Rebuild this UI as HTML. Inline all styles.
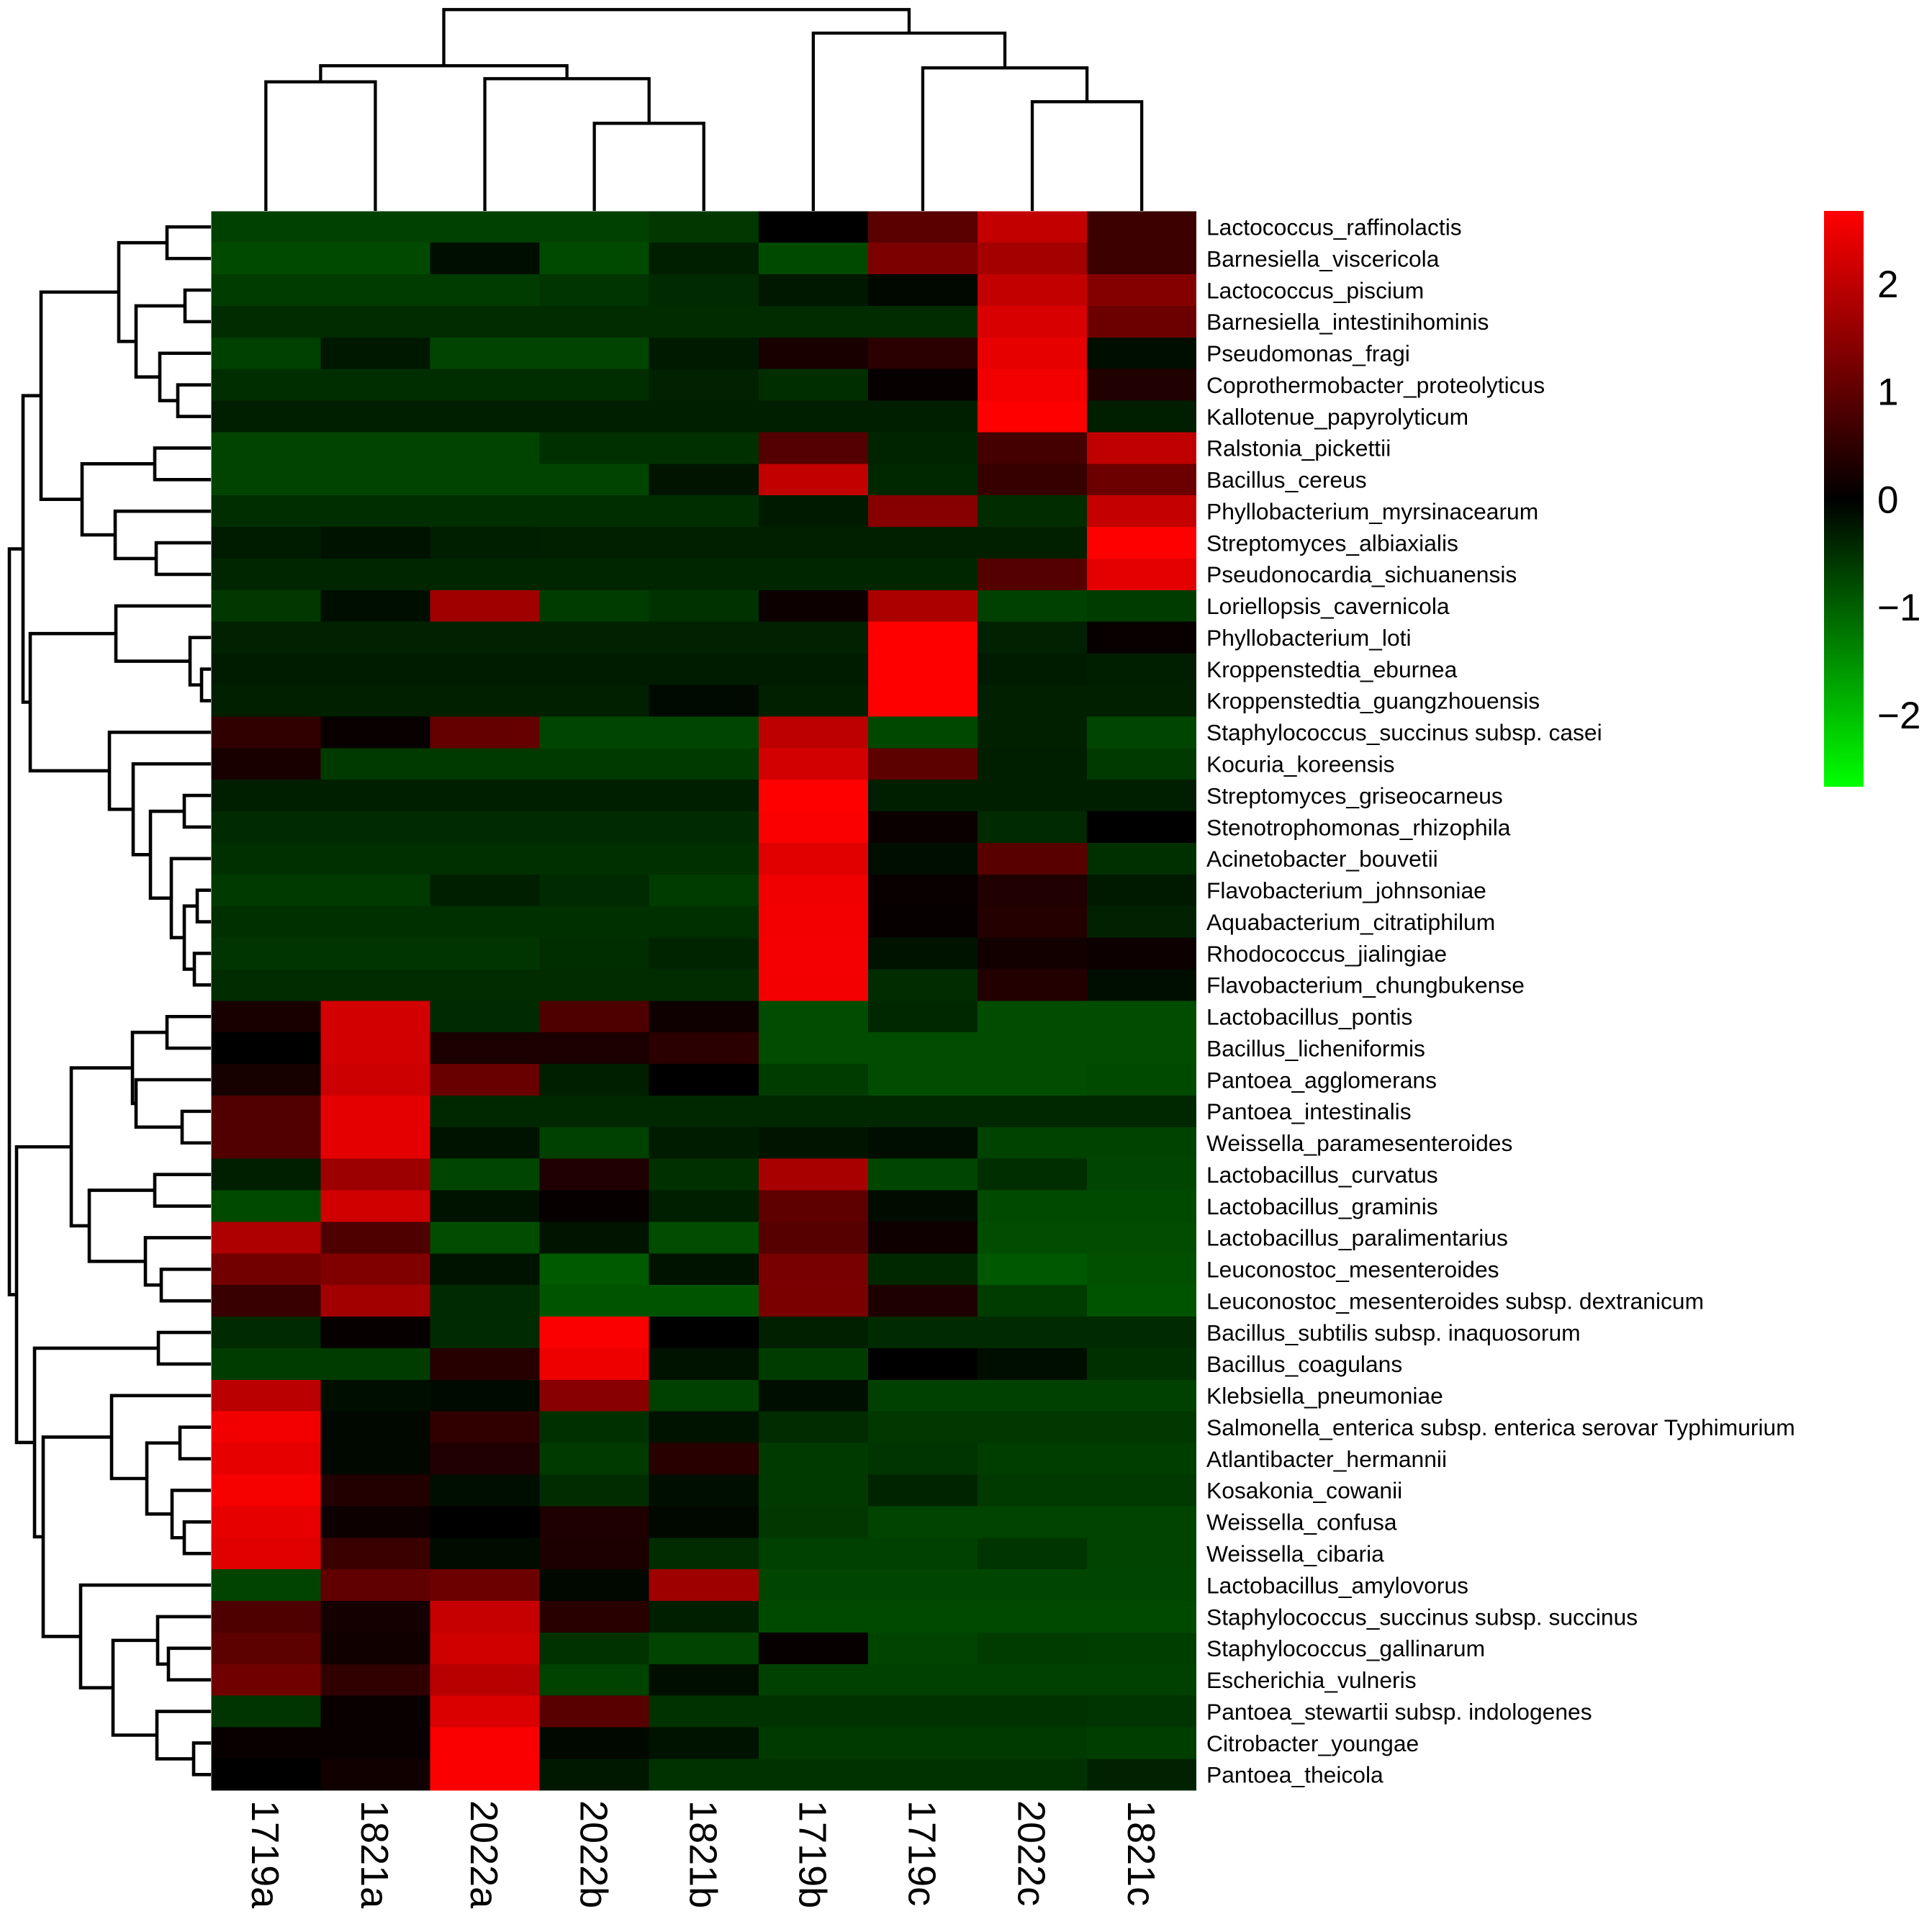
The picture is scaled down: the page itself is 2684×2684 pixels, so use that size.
<!DOCTYPE html>
<html><head><meta charset="utf-8"><style>
html,body{margin:0;padding:0;background:#fff;}
svg{display:block;}
text{font-family:"Liberation Sans",Arial,sans-serif;fill:#000;}
.rl{font-size:31.8px;}
.cl{font-size:54px;}
.lg{font-size:53px;}
</style></head><body>
<svg width="2684" height="2684" viewBox="0 0 2684 2684" xmlns="http://www.w3.org/2000/svg">
<defs><linearGradient id="cb" x1="0" y1="0" x2="0" y2="1"><stop offset="0" stop-color="#ff0000"/><stop offset="0.5006" stop-color="#000000"/><stop offset="1" stop-color="#00ff00"/></linearGradient></defs>
<rect width="2684" height="2684" fill="#fff"/>
<g shape-rendering="crispEdges">
<g transform="translate(0,293.3)"><rect x="293.3" width="152.6" height="44.4" fill="#004000"/><rect x="445.4" width="152.6" height="44.4" fill="#004000"/><rect x="597.5" width="152.6" height="44.4" fill="#004000"/><rect x="749.6" width="152.6" height="44.4" fill="#004000"/><rect x="901.7" width="152.6" height="44.4" fill="#003800"/><rect x="1053.8" width="152.6" height="44.4" fill="#000000"/><rect x="1205.9" width="152.6" height="44.4" fill="#5a0000"/><rect x="1358" width="152.6" height="44.4" fill="#c20000"/><rect x="1510.1" width="152.1" height="44.4" fill="#3c0000"/></g>
<g transform="translate(0,337.18)"><rect x="293.3" width="152.6" height="44.4" fill="#004a00"/><rect x="445.4" width="152.6" height="44.4" fill="#004a00"/><rect x="597.5" width="152.6" height="44.4" fill="#000e00"/><rect x="749.6" width="152.6" height="44.4" fill="#004a00"/><rect x="901.7" width="152.6" height="44.4" fill="#001e00"/><rect x="1053.8" width="152.6" height="44.4" fill="#004a00"/><rect x="1205.9" width="152.6" height="44.4" fill="#7c0000"/><rect x="1358" width="152.6" height="44.4" fill="#a40000"/><rect x="1510.1" width="152.1" height="44.4" fill="#3c0000"/></g>
<g transform="translate(0,381.06)"><rect x="293.3" width="152.6" height="44.4" fill="#003c00"/><rect x="445.4" width="152.6" height="44.4" fill="#003c00"/><rect x="597.5" width="152.6" height="44.4" fill="#003c00"/><rect x="749.6" width="152.6" height="44.4" fill="#003400"/><rect x="901.7" width="152.6" height="44.4" fill="#002a00"/><rect x="1053.8" width="152.6" height="44.4" fill="#001800"/><rect x="1205.9" width="152.6" height="44.4" fill="#000800"/><rect x="1358" width="152.6" height="44.4" fill="#c20000"/><rect x="1510.1" width="152.1" height="44.4" fill="#840000"/></g>
<g transform="translate(0,424.94)"><rect x="293.3" width="152.6" height="44.4" fill="#002c00"/><rect x="445.4" width="152.6" height="44.4" fill="#002c00"/><rect x="597.5" width="152.6" height="44.4" fill="#002c00"/><rect x="749.6" width="152.6" height="44.4" fill="#002c00"/><rect x="901.7" width="152.6" height="44.4" fill="#002c00"/><rect x="1053.8" width="152.6" height="44.4" fill="#002c00"/><rect x="1205.9" width="152.6" height="44.4" fill="#002c00"/><rect x="1358" width="152.6" height="44.4" fill="#d80000"/><rect x="1510.1" width="152.1" height="44.4" fill="#6c0000"/></g>
<g transform="translate(0,468.82)"><rect x="293.3" width="152.6" height="44.4" fill="#004000"/><rect x="445.4" width="152.6" height="44.4" fill="#001800"/><rect x="597.5" width="152.6" height="44.4" fill="#004400"/><rect x="749.6" width="152.6" height="44.4" fill="#004400"/><rect x="901.7" width="152.6" height="44.4" fill="#001a00"/><rect x="1053.8" width="152.6" height="44.4" fill="#180000"/><rect x="1205.9" width="152.6" height="44.4" fill="#2a0000"/><rect x="1358" width="152.6" height="44.4" fill="#e60000"/><rect x="1510.1" width="152.1" height="44.4" fill="#000e00"/></g>
<g transform="translate(0,512.7)"><rect x="293.3" width="152.6" height="44.4" fill="#002e00"/><rect x="445.4" width="152.6" height="44.4" fill="#002e00"/><rect x="597.5" width="152.6" height="44.4" fill="#002e00"/><rect x="749.6" width="152.6" height="44.4" fill="#002e00"/><rect x="901.7" width="152.6" height="44.4" fill="#002200"/><rect x="1053.8" width="152.6" height="44.4" fill="#002e00"/><rect x="1205.9" width="152.6" height="44.4" fill="#060000"/><rect x="1358" width="152.6" height="44.4" fill="#f20000"/><rect x="1510.1" width="152.1" height="44.4" fill="#200000"/></g>
<g transform="translate(0,556.58)"><rect x="293.3" width="152.6" height="44.4" fill="#001e00"/><rect x="445.4" width="152.6" height="44.4" fill="#001e00"/><rect x="597.5" width="152.6" height="44.4" fill="#001e00"/><rect x="749.6" width="152.6" height="44.4" fill="#001e00"/><rect x="901.7" width="152.6" height="44.4" fill="#001e00"/><rect x="1053.8" width="152.6" height="44.4" fill="#001e00"/><rect x="1205.9" width="152.6" height="44.4" fill="#001e00"/><rect x="1358" width="152.6" height="44.4" fill="#ff0000"/><rect x="1510.1" width="152.1" height="44.4" fill="#001e00"/></g>
<g transform="translate(0,600.46)"><rect x="293.3" width="152.6" height="44.4" fill="#004400"/><rect x="445.4" width="152.6" height="44.4" fill="#004400"/><rect x="597.5" width="152.6" height="44.4" fill="#004400"/><rect x="749.6" width="152.6" height="44.4" fill="#003000"/><rect x="901.7" width="152.6" height="44.4" fill="#003000"/><rect x="1053.8" width="152.6" height="44.4" fill="#540000"/><rect x="1205.9" width="152.6" height="44.4" fill="#002400"/><rect x="1358" width="152.6" height="44.4" fill="#440000"/><rect x="1510.1" width="152.1" height="44.4" fill="#c00000"/></g>
<g transform="translate(0,644.34)"><rect x="293.3" width="152.6" height="44.4" fill="#004400"/><rect x="445.4" width="152.6" height="44.4" fill="#004400"/><rect x="597.5" width="152.6" height="44.4" fill="#004400"/><rect x="749.6" width="152.6" height="44.4" fill="#004400"/><rect x="901.7" width="152.6" height="44.4" fill="#001400"/><rect x="1053.8" width="152.6" height="44.4" fill="#c20000"/><rect x="1205.9" width="152.6" height="44.4" fill="#002800"/><rect x="1358" width="152.6" height="44.4" fill="#360000"/><rect x="1510.1" width="152.1" height="44.4" fill="#6c0000"/></g>
<g transform="translate(0,688.22)"><rect x="293.3" width="152.6" height="44.4" fill="#002e00"/><rect x="445.4" width="152.6" height="44.4" fill="#002e00"/><rect x="597.5" width="152.6" height="44.4" fill="#002e00"/><rect x="749.6" width="152.6" height="44.4" fill="#002e00"/><rect x="901.7" width="152.6" height="44.4" fill="#002e00"/><rect x="1053.8" width="152.6" height="44.4" fill="#001a00"/><rect x="1205.9" width="152.6" height="44.4" fill="#860000"/><rect x="1358" width="152.6" height="44.4" fill="#002c00"/><rect x="1510.1" width="152.1" height="44.4" fill="#c40000"/></g>
<g transform="translate(0,732.1)"><rect x="293.3" width="152.6" height="44.4" fill="#001c00"/><rect x="445.4" width="152.6" height="44.4" fill="#001200"/><rect x="597.5" width="152.6" height="44.4" fill="#001e00"/><rect x="749.6" width="152.6" height="44.4" fill="#002000"/><rect x="901.7" width="152.6" height="44.4" fill="#002000"/><rect x="1053.8" width="152.6" height="44.4" fill="#002000"/><rect x="1205.9" width="152.6" height="44.4" fill="#002000"/><rect x="1358" width="152.6" height="44.4" fill="#002000"/><rect x="1510.1" width="152.1" height="44.4" fill="#ff0000"/></g>
<g transform="translate(0,775.98)"><rect x="293.3" width="152.6" height="44.4" fill="#002600"/><rect x="445.4" width="152.6" height="44.4" fill="#002600"/><rect x="597.5" width="152.6" height="44.4" fill="#002600"/><rect x="749.6" width="152.6" height="44.4" fill="#002600"/><rect x="901.7" width="152.6" height="44.4" fill="#002600"/><rect x="1053.8" width="152.6" height="44.4" fill="#002600"/><rect x="1205.9" width="152.6" height="44.4" fill="#002600"/><rect x="1358" width="152.6" height="44.4" fill="#540000"/><rect x="1510.1" width="152.1" height="44.4" fill="#e40000"/></g>
<g transform="translate(0,819.86)"><rect x="293.3" width="152.6" height="44.4" fill="#003800"/><rect x="445.4" width="152.6" height="44.4" fill="#000e00"/><rect x="597.5" width="152.6" height="44.4" fill="#a00000"/><rect x="749.6" width="152.6" height="44.4" fill="#003c00"/><rect x="901.7" width="152.6" height="44.4" fill="#003200"/><rect x="1053.8" width="152.6" height="44.4" fill="#0c0000"/><rect x="1205.9" width="152.6" height="44.4" fill="#aa0000"/><rect x="1358" width="152.6" height="44.4" fill="#004000"/><rect x="1510.1" width="152.1" height="44.4" fill="#003c00"/></g>
<g transform="translate(0,863.74)"><rect x="293.3" width="152.6" height="44.4" fill="#002200"/><rect x="445.4" width="152.6" height="44.4" fill="#002200"/><rect x="597.5" width="152.6" height="44.4" fill="#002200"/><rect x="749.6" width="152.6" height="44.4" fill="#002200"/><rect x="901.7" width="152.6" height="44.4" fill="#002200"/><rect x="1053.8" width="152.6" height="44.4" fill="#002200"/><rect x="1205.9" width="152.6" height="44.4" fill="#ff0000"/><rect x="1358" width="152.6" height="44.4" fill="#002200"/><rect x="1510.1" width="152.1" height="44.4" fill="#080000"/></g>
<g transform="translate(0,907.62)"><rect x="293.3" width="152.6" height="44.4" fill="#001c00"/><rect x="445.4" width="152.6" height="44.4" fill="#001c00"/><rect x="597.5" width="152.6" height="44.4" fill="#001c00"/><rect x="749.6" width="152.6" height="44.4" fill="#001c00"/><rect x="901.7" width="152.6" height="44.4" fill="#001c00"/><rect x="1053.8" width="152.6" height="44.4" fill="#001c00"/><rect x="1205.9" width="152.6" height="44.4" fill="#ff0000"/><rect x="1358" width="152.6" height="44.4" fill="#001c00"/><rect x="1510.1" width="152.1" height="44.4" fill="#001e00"/></g>
<g transform="translate(0,951.5)"><rect x="293.3" width="152.6" height="44.4" fill="#002000"/><rect x="445.4" width="152.6" height="44.4" fill="#002000"/><rect x="597.5" width="152.6" height="44.4" fill="#002000"/><rect x="749.6" width="152.6" height="44.4" fill="#002000"/><rect x="901.7" width="152.6" height="44.4" fill="#000a00"/><rect x="1053.8" width="152.6" height="44.4" fill="#002000"/><rect x="1205.9" width="152.6" height="44.4" fill="#ff0000"/><rect x="1358" width="152.6" height="44.4" fill="#002000"/><rect x="1510.1" width="152.1" height="44.4" fill="#002000"/></g>
<g transform="translate(0,995.38)"><rect x="293.3" width="152.6" height="44.4" fill="#300000"/><rect x="445.4" width="152.6" height="44.4" fill="#080000"/><rect x="597.5" width="152.6" height="44.4" fill="#640000"/><rect x="749.6" width="152.6" height="44.4" fill="#004600"/><rect x="901.7" width="152.6" height="44.4" fill="#004600"/><rect x="1053.8" width="152.6" height="44.4" fill="#bc0000"/><rect x="1205.9" width="152.6" height="44.4" fill="#004800"/><rect x="1358" width="152.6" height="44.4" fill="#002000"/><rect x="1510.1" width="152.1" height="44.4" fill="#004600"/></g>
<g transform="translate(0,1039.26)"><rect x="293.3" width="152.6" height="44.4" fill="#180000"/><rect x="445.4" width="152.6" height="44.4" fill="#003a00"/><rect x="597.5" width="152.6" height="44.4" fill="#003a00"/><rect x="749.6" width="152.6" height="44.4" fill="#003a00"/><rect x="901.7" width="152.6" height="44.4" fill="#003a00"/><rect x="1053.8" width="152.6" height="44.4" fill="#d20000"/><rect x="1205.9" width="152.6" height="44.4" fill="#5c0000"/><rect x="1358" width="152.6" height="44.4" fill="#001e00"/><rect x="1510.1" width="152.1" height="44.4" fill="#003a00"/></g>
<g transform="translate(0,1083.14)"><rect x="293.3" width="152.6" height="44.4" fill="#001e00"/><rect x="445.4" width="152.6" height="44.4" fill="#001e00"/><rect x="597.5" width="152.6" height="44.4" fill="#001e00"/><rect x="749.6" width="152.6" height="44.4" fill="#001e00"/><rect x="901.7" width="152.6" height="44.4" fill="#001e00"/><rect x="1053.8" width="152.6" height="44.4" fill="#ff0000"/><rect x="1205.9" width="152.6" height="44.4" fill="#001e00"/><rect x="1358" width="152.6" height="44.4" fill="#001e00"/><rect x="1510.1" width="152.1" height="44.4" fill="#001e00"/></g>
<g transform="translate(0,1127.02)"><rect x="293.3" width="152.6" height="44.4" fill="#002a00"/><rect x="445.4" width="152.6" height="44.4" fill="#002a00"/><rect x="597.5" width="152.6" height="44.4" fill="#002a00"/><rect x="749.6" width="152.6" height="44.4" fill="#002a00"/><rect x="901.7" width="152.6" height="44.4" fill="#002a00"/><rect x="1053.8" width="152.6" height="44.4" fill="#fa0000"/><rect x="1205.9" width="152.6" height="44.4" fill="#0a0000"/><rect x="1358" width="152.6" height="44.4" fill="#002a00"/><rect x="1510.1" width="152.1" height="44.4" fill="#000000"/></g>
<g transform="translate(0,1170.9)"><rect x="293.3" width="152.6" height="44.4" fill="#003000"/><rect x="445.4" width="152.6" height="44.4" fill="#003000"/><rect x="597.5" width="152.6" height="44.4" fill="#003000"/><rect x="749.6" width="152.6" height="44.4" fill="#003000"/><rect x="901.7" width="152.6" height="44.4" fill="#003000"/><rect x="1053.8" width="152.6" height="44.4" fill="#e00000"/><rect x="1205.9" width="152.6" height="44.4" fill="#000e00"/><rect x="1358" width="152.6" height="44.4" fill="#580000"/><rect x="1510.1" width="152.1" height="44.4" fill="#003000"/></g>
<g transform="translate(0,1214.78)"><rect x="293.3" width="152.6" height="44.4" fill="#003a00"/><rect x="445.4" width="152.6" height="44.4" fill="#003a00"/><rect x="597.5" width="152.6" height="44.4" fill="#001e00"/><rect x="749.6" width="152.6" height="44.4" fill="#002a00"/><rect x="901.7" width="152.6" height="44.4" fill="#003c00"/><rect x="1053.8" width="152.6" height="44.4" fill="#f00000"/><rect x="1205.9" width="152.6" height="44.4" fill="#080000"/><rect x="1358" width="152.6" height="44.4" fill="#200000"/><rect x="1510.1" width="152.1" height="44.4" fill="#001a00"/></g>
<g transform="translate(0,1258.66)"><rect x="293.3" width="152.6" height="44.4" fill="#003000"/><rect x="445.4" width="152.6" height="44.4" fill="#003000"/><rect x="597.5" width="152.6" height="44.4" fill="#003000"/><rect x="749.6" width="152.6" height="44.4" fill="#003000"/><rect x="901.7" width="152.6" height="44.4" fill="#003000"/><rect x="1053.8" width="152.6" height="44.4" fill="#f20000"/><rect x="1205.9" width="152.6" height="44.4" fill="#060000"/><rect x="1358" width="152.6" height="44.4" fill="#240000"/><rect x="1510.1" width="152.1" height="44.4" fill="#002200"/></g>
<g transform="translate(0,1302.54)"><rect x="293.3" width="152.6" height="44.4" fill="#003400"/><rect x="445.4" width="152.6" height="44.4" fill="#003400"/><rect x="597.5" width="152.6" height="44.4" fill="#003400"/><rect x="749.6" width="152.6" height="44.4" fill="#002e00"/><rect x="901.7" width="152.6" height="44.4" fill="#002400"/><rect x="1053.8" width="152.6" height="44.4" fill="#f40000"/><rect x="1205.9" width="152.6" height="44.4" fill="#001200"/><rect x="1358" width="152.6" height="44.4" fill="#120000"/><rect x="1510.1" width="152.1" height="44.4" fill="#0c0000"/></g>
<g transform="translate(0,1346.42)"><rect x="293.3" width="152.6" height="44.4" fill="#002c00"/><rect x="445.4" width="152.6" height="44.4" fill="#002c00"/><rect x="597.5" width="152.6" height="44.4" fill="#002c00"/><rect x="749.6" width="152.6" height="44.4" fill="#002c00"/><rect x="901.7" width="152.6" height="44.4" fill="#002c00"/><rect x="1053.8" width="152.6" height="44.4" fill="#f20000"/><rect x="1205.9" width="152.6" height="44.4" fill="#002c00"/><rect x="1358" width="152.6" height="44.4" fill="#220000"/><rect x="1510.1" width="152.1" height="44.4" fill="#000e00"/></g>
<g transform="translate(0,1390.3)"><rect x="293.3" width="152.6" height="44.4" fill="#180000"/><rect x="445.4" width="152.6" height="44.4" fill="#d20000"/><rect x="597.5" width="152.6" height="44.4" fill="#002a00"/><rect x="749.6" width="152.6" height="44.4" fill="#4e0000"/><rect x="901.7" width="152.6" height="44.4" fill="#0e0000"/><rect x="1053.8" width="152.6" height="44.4" fill="#004c00"/><rect x="1205.9" width="152.6" height="44.4" fill="#002800"/><rect x="1358" width="152.6" height="44.4" fill="#004c00"/><rect x="1510.1" width="152.1" height="44.4" fill="#004c00"/></g>
<g transform="translate(0,1434.18)"><rect x="293.3" width="152.6" height="44.4" fill="#000000"/><rect x="445.4" width="152.6" height="44.4" fill="#d20000"/><rect x="597.5" width="152.6" height="44.4" fill="#1a0000"/><rect x="749.6" width="152.6" height="44.4" fill="#1a0000"/><rect x="901.7" width="152.6" height="44.4" fill="#2a0000"/><rect x="1053.8" width="152.6" height="44.4" fill="#004c00"/><rect x="1205.9" width="152.6" height="44.4" fill="#004c00"/><rect x="1358" width="152.6" height="44.4" fill="#004c00"/><rect x="1510.1" width="152.1" height="44.4" fill="#004c00"/></g>
<g transform="translate(0,1478.06)"><rect x="293.3" width="152.6" height="44.4" fill="#160000"/><rect x="445.4" width="152.6" height="44.4" fill="#cc0000"/><rect x="597.5" width="152.6" height="44.4" fill="#680000"/><rect x="749.6" width="152.6" height="44.4" fill="#001e00"/><rect x="901.7" width="152.6" height="44.4" fill="#000000"/><rect x="1053.8" width="152.6" height="44.4" fill="#003c00"/><rect x="1205.9" width="152.6" height="44.4" fill="#004c00"/><rect x="1358" width="152.6" height="44.4" fill="#004c00"/><rect x="1510.1" width="152.1" height="44.4" fill="#004a00"/></g>
<g transform="translate(0,1521.94)"><rect x="293.3" width="152.6" height="44.4" fill="#500000"/><rect x="445.4" width="152.6" height="44.4" fill="#e40000"/><rect x="597.5" width="152.6" height="44.4" fill="#002800"/><rect x="749.6" width="152.6" height="44.4" fill="#002800"/><rect x="901.7" width="152.6" height="44.4" fill="#002800"/><rect x="1053.8" width="152.6" height="44.4" fill="#002800"/><rect x="1205.9" width="152.6" height="44.4" fill="#002800"/><rect x="1358" width="152.6" height="44.4" fill="#002800"/><rect x="1510.1" width="152.1" height="44.4" fill="#002800"/></g>
<g transform="translate(0,1565.82)"><rect x="293.3" width="152.6" height="44.4" fill="#500000"/><rect x="445.4" width="152.6" height="44.4" fill="#e40000"/><rect x="597.5" width="152.6" height="44.4" fill="#001200"/><rect x="749.6" width="152.6" height="44.4" fill="#004000"/><rect x="901.7" width="152.6" height="44.4" fill="#001c00"/><rect x="1053.8" width="152.6" height="44.4" fill="#001400"/><rect x="1205.9" width="152.6" height="44.4" fill="#000e00"/><rect x="1358" width="152.6" height="44.4" fill="#004200"/><rect x="1510.1" width="152.1" height="44.4" fill="#004200"/></g>
<g transform="translate(0,1609.7)"><rect x="293.3" width="152.6" height="44.4" fill="#001e00"/><rect x="445.4" width="152.6" height="44.4" fill="#9c0000"/><rect x="597.5" width="152.6" height="44.4" fill="#004600"/><rect x="749.6" width="152.6" height="44.4" fill="#200000"/><rect x="901.7" width="152.6" height="44.4" fill="#003000"/><rect x="1053.8" width="152.6" height="44.4" fill="#a80000"/><rect x="1205.9" width="152.6" height="44.4" fill="#004600"/><rect x="1358" width="152.6" height="44.4" fill="#002e00"/><rect x="1510.1" width="152.1" height="44.4" fill="#004600"/></g>
<g transform="translate(0,1653.58)"><rect x="293.3" width="152.6" height="44.4" fill="#004a00"/><rect x="445.4" width="152.6" height="44.4" fill="#d00000"/><rect x="597.5" width="152.6" height="44.4" fill="#001200"/><rect x="749.6" width="152.6" height="44.4" fill="#060000"/><rect x="901.7" width="152.6" height="44.4" fill="#001e00"/><rect x="1053.8" width="152.6" height="44.4" fill="#5e0000"/><rect x="1205.9" width="152.6" height="44.4" fill="#000c00"/><rect x="1358" width="152.6" height="44.4" fill="#004a00"/><rect x="1510.1" width="152.1" height="44.4" fill="#004a00"/></g>
<g transform="translate(0,1697.46)"><rect x="293.3" width="152.6" height="44.4" fill="#ae0000"/><rect x="445.4" width="152.6" height="44.4" fill="#4e0000"/><rect x="597.5" width="152.6" height="44.4" fill="#004c00"/><rect x="749.6" width="152.6" height="44.4" fill="#001400"/><rect x="901.7" width="152.6" height="44.4" fill="#004c00"/><rect x="1053.8" width="152.6" height="44.4" fill="#560000"/><rect x="1205.9" width="152.6" height="44.4" fill="#0e0000"/><rect x="1358" width="152.6" height="44.4" fill="#004c00"/><rect x="1510.1" width="152.1" height="44.4" fill="#004c00"/></g>
<g transform="translate(0,1741.34)"><rect x="293.3" width="152.6" height="44.4" fill="#720000"/><rect x="445.4" width="152.6" height="44.4" fill="#800000"/><rect x="597.5" width="152.6" height="44.4" fill="#001200"/><rect x="749.6" width="152.6" height="44.4" fill="#005a00"/><rect x="901.7" width="152.6" height="44.4" fill="#001200"/><rect x="1053.8" width="152.6" height="44.4" fill="#780000"/><rect x="1205.9" width="152.6" height="44.4" fill="#002800"/><rect x="1358" width="152.6" height="44.4" fill="#005800"/><rect x="1510.1" width="152.1" height="44.4" fill="#005000"/></g>
<g transform="translate(0,1785.22)"><rect x="293.3" width="152.6" height="44.4" fill="#380000"/><rect x="445.4" width="152.6" height="44.4" fill="#a20000"/><rect x="597.5" width="152.6" height="44.4" fill="#002a00"/><rect x="749.6" width="152.6" height="44.4" fill="#005400"/><rect x="901.7" width="152.6" height="44.4" fill="#005400"/><rect x="1053.8" width="152.6" height="44.4" fill="#7a0000"/><rect x="1205.9" width="152.6" height="44.4" fill="#1e0000"/><rect x="1358" width="152.6" height="44.4" fill="#003c00"/><rect x="1510.1" width="152.1" height="44.4" fill="#005400"/></g>
<g transform="translate(0,1829.1)"><rect x="293.3" width="152.6" height="44.4" fill="#002a00"/><rect x="445.4" width="152.6" height="44.4" fill="#060000"/><rect x="597.5" width="152.6" height="44.4" fill="#002a00"/><rect x="749.6" width="152.6" height="44.4" fill="#fa0000"/><rect x="901.7" width="152.6" height="44.4" fill="#000000"/><rect x="1053.8" width="152.6" height="44.4" fill="#002000"/><rect x="1205.9" width="152.6" height="44.4" fill="#002a00"/><rect x="1358" width="152.6" height="44.4" fill="#002a00"/><rect x="1510.1" width="152.1" height="44.4" fill="#002a00"/></g>
<g transform="translate(0,1872.98)"><rect x="293.3" width="152.6" height="44.4" fill="#003c00"/><rect x="445.4" width="152.6" height="44.4" fill="#003c00"/><rect x="597.5" width="152.6" height="44.4" fill="#260000"/><rect x="749.6" width="152.6" height="44.4" fill="#ee0000"/><rect x="901.7" width="152.6" height="44.4" fill="#001200"/><rect x="1053.8" width="152.6" height="44.4" fill="#003c00"/><rect x="1205.9" width="152.6" height="44.4" fill="#000000"/><rect x="1358" width="152.6" height="44.4" fill="#000e00"/><rect x="1510.1" width="152.1" height="44.4" fill="#003000"/></g>
<g transform="translate(0,1916.86)"><rect x="293.3" width="152.6" height="44.4" fill="#ba0000"/><rect x="445.4" width="152.6" height="44.4" fill="#000e00"/><rect x="597.5" width="152.6" height="44.4" fill="#000a00"/><rect x="749.6" width="152.6" height="44.4" fill="#880000"/><rect x="901.7" width="152.6" height="44.4" fill="#004000"/><rect x="1053.8" width="152.6" height="44.4" fill="#000e00"/><rect x="1205.9" width="152.6" height="44.4" fill="#004000"/><rect x="1358" width="152.6" height="44.4" fill="#004000"/><rect x="1510.1" width="152.1" height="44.4" fill="#004000"/></g>
<g transform="translate(0,1960.74)"><rect x="293.3" width="152.6" height="44.4" fill="#f20000"/><rect x="445.4" width="152.6" height="44.4" fill="#000800"/><rect x="597.5" width="152.6" height="44.4" fill="#300000"/><rect x="749.6" width="152.6" height="44.4" fill="#003000"/><rect x="901.7" width="152.6" height="44.4" fill="#001200"/><rect x="1053.8" width="152.6" height="44.4" fill="#002c00"/><rect x="1205.9" width="152.6" height="44.4" fill="#003800"/><rect x="1358" width="152.6" height="44.4" fill="#003800"/><rect x="1510.1" width="152.1" height="44.4" fill="#003800"/></g>
<g transform="translate(0,2004.62)"><rect x="293.3" width="152.6" height="44.4" fill="#e60000"/><rect x="445.4" width="152.6" height="44.4" fill="#000800"/><rect x="597.5" width="152.6" height="44.4" fill="#200000"/><rect x="749.6" width="152.6" height="44.4" fill="#003a00"/><rect x="901.7" width="152.6" height="44.4" fill="#280000"/><rect x="1053.8" width="152.6" height="44.4" fill="#003a00"/><rect x="1205.9" width="152.6" height="44.4" fill="#003400"/><rect x="1358" width="152.6" height="44.4" fill="#003e00"/><rect x="1510.1" width="152.1" height="44.4" fill="#003e00"/></g>
<g transform="translate(0,2048.5)"><rect x="293.3" width="152.6" height="44.4" fill="#f60000"/><rect x="445.4" width="152.6" height="44.4" fill="#220000"/><rect x="597.5" width="152.6" height="44.4" fill="#000e00"/><rect x="749.6" width="152.6" height="44.4" fill="#002c00"/><rect x="901.7" width="152.6" height="44.4" fill="#000e00"/><rect x="1053.8" width="152.6" height="44.4" fill="#003a00"/><rect x="1205.9" width="152.6" height="44.4" fill="#002400"/><rect x="1358" width="152.6" height="44.4" fill="#003a00"/><rect x="1510.1" width="152.1" height="44.4" fill="#003a00"/></g>
<g transform="translate(0,2092.38)"><rect x="293.3" width="152.6" height="44.4" fill="#e60000"/><rect x="445.4" width="152.6" height="44.4" fill="#0c0000"/><rect x="597.5" width="152.6" height="44.4" fill="#000000"/><rect x="749.6" width="152.6" height="44.4" fill="#1e0000"/><rect x="901.7" width="152.6" height="44.4" fill="#000800"/><rect x="1053.8" width="152.6" height="44.4" fill="#003800"/><rect x="1205.9" width="152.6" height="44.4" fill="#004400"/><rect x="1358" width="152.6" height="44.4" fill="#004400"/><rect x="1510.1" width="152.1" height="44.4" fill="#004400"/></g>
<g transform="translate(0,2136.26)"><rect x="293.3" width="152.6" height="44.4" fill="#e00000"/><rect x="445.4" width="152.6" height="44.4" fill="#3a0000"/><rect x="597.5" width="152.6" height="44.4" fill="#000c00"/><rect x="749.6" width="152.6" height="44.4" fill="#1c0000"/><rect x="901.7" width="152.6" height="44.4" fill="#002c00"/><rect x="1053.8" width="152.6" height="44.4" fill="#004000"/><rect x="1205.9" width="152.6" height="44.4" fill="#004000"/><rect x="1358" width="152.6" height="44.4" fill="#003400"/><rect x="1510.1" width="152.1" height="44.4" fill="#004400"/></g>
<g transform="translate(0,2180.14)"><rect x="293.3" width="152.6" height="44.4" fill="#004400"/><rect x="445.4" width="152.6" height="44.4" fill="#600000"/><rect x="597.5" width="152.6" height="44.4" fill="#6c0000"/><rect x="749.6" width="152.6" height="44.4" fill="#000800"/><rect x="901.7" width="152.6" height="44.4" fill="#9e0000"/><rect x="1053.8" width="152.6" height="44.4" fill="#004600"/><rect x="1205.9" width="152.6" height="44.4" fill="#004600"/><rect x="1358" width="152.6" height="44.4" fill="#004600"/><rect x="1510.1" width="152.1" height="44.4" fill="#004600"/></g>
<g transform="translate(0,2224.02)"><rect x="293.3" width="152.6" height="44.4" fill="#4e0000"/><rect x="445.4" width="152.6" height="44.4" fill="#140000"/><rect x="597.5" width="152.6" height="44.4" fill="#c60000"/><rect x="749.6" width="152.6" height="44.4" fill="#280000"/><rect x="901.7" width="152.6" height="44.4" fill="#001e00"/><rect x="1053.8" width="152.6" height="44.4" fill="#004a00"/><rect x="1205.9" width="152.6" height="44.4" fill="#004a00"/><rect x="1358" width="152.6" height="44.4" fill="#004a00"/><rect x="1510.1" width="152.1" height="44.4" fill="#004a00"/></g>
<g transform="translate(0,2267.9)"><rect x="293.3" width="152.6" height="44.4" fill="#5c0000"/><rect x="445.4" width="152.6" height="44.4" fill="#100000"/><rect x="597.5" width="152.6" height="44.4" fill="#ce0000"/><rect x="749.6" width="152.6" height="44.4" fill="#003200"/><rect x="901.7" width="152.6" height="44.4" fill="#004400"/><rect x="1053.8" width="152.6" height="44.4" fill="#060000"/><rect x="1205.9" width="152.6" height="44.4" fill="#004400"/><rect x="1358" width="152.6" height="44.4" fill="#003c00"/><rect x="1510.1" width="152.1" height="44.4" fill="#003e00"/></g>
<g transform="translate(0,2311.78)"><rect x="293.3" width="152.6" height="44.4" fill="#700000"/><rect x="445.4" width="152.6" height="44.4" fill="#300000"/><rect x="597.5" width="152.6" height="44.4" fill="#b80000"/><rect x="749.6" width="152.6" height="44.4" fill="#004200"/><rect x="901.7" width="152.6" height="44.4" fill="#000e00"/><rect x="1053.8" width="152.6" height="44.4" fill="#004000"/><rect x="1205.9" width="152.6" height="44.4" fill="#004000"/><rect x="1358" width="152.6" height="44.4" fill="#004000"/><rect x="1510.1" width="152.1" height="44.4" fill="#004000"/></g>
<g transform="translate(0,2355.66)"><rect x="293.3" width="152.6" height="44.4" fill="#003400"/><rect x="445.4" width="152.6" height="44.4" fill="#080000"/><rect x="597.5" width="152.6" height="44.4" fill="#da0000"/><rect x="749.6" width="152.6" height="44.4" fill="#580000"/><rect x="901.7" width="152.6" height="44.4" fill="#003200"/><rect x="1053.8" width="152.6" height="44.4" fill="#003200"/><rect x="1205.9" width="152.6" height="44.4" fill="#003200"/><rect x="1358" width="152.6" height="44.4" fill="#003200"/><rect x="1510.1" width="152.1" height="44.4" fill="#003400"/></g>
<g transform="translate(0,2399.54)"><rect x="293.3" width="152.6" height="44.4" fill="#080000"/><rect x="445.4" width="152.6" height="44.4" fill="#080000"/><rect x="597.5" width="152.6" height="44.4" fill="#fa0000"/><rect x="749.6" width="152.6" height="44.4" fill="#000800"/><rect x="901.7" width="152.6" height="44.4" fill="#001200"/><rect x="1053.8" width="152.6" height="44.4" fill="#003a00"/><rect x="1205.9" width="152.6" height="44.4" fill="#003a00"/><rect x="1358" width="152.6" height="44.4" fill="#003a00"/><rect x="1510.1" width="152.1" height="44.4" fill="#003e00"/></g>
<g transform="translate(0,2443.42)"><rect x="293.3" width="152.6" height="43.9" fill="#000000"/><rect x="445.4" width="152.6" height="43.9" fill="#100000"/><rect x="597.5" width="152.6" height="43.9" fill="#fa0000"/><rect x="749.6" width="152.6" height="43.9" fill="#001800"/><rect x="901.7" width="152.6" height="43.9" fill="#003200"/><rect x="1053.8" width="152.6" height="43.9" fill="#003200"/><rect x="1205.9" width="152.6" height="43.9" fill="#003200"/><rect x="1358" width="152.6" height="43.9" fill="#003200"/><rect x="1510.1" width="152.1" height="43.9" fill="#002200"/></g>
</g>

<g fill="none" stroke="#000" stroke-width="4.6" stroke-linejoin="miter" stroke-linecap="butt">
<path d="M293,315.24H232V359.12H293"/>
<path d="M293,403H257V446.88H293"/>
<path d="M293,534.64H247V578.52H293"/>
<path d="M293,490.76H222V556.58H247"/>
<path d="M257,424.94H189V523.67H222"/>
<path d="M232,337.18H165V474.31H189"/>
<path d="M293,622.4H215V666.28H293"/>
<path d="M293,754.04H217V797.92H293"/>
<path d="M293,710.16H160V775.98H217"/>
<path d="M215,644.34H114V743.07H160"/>
<path d="M165,405.74H57V693.7H114"/>
<path d="M293,929.56H280V973.44H293"/>
<path d="M293,885.68H264V951.5H280"/>
<path d="M293,841.8H161V918.59H264"/>
<path d="M293,1105.08H256V1148.96H293"/>
<path d="M293,1236.72H274V1280.6H293"/>
<path d="M293,1324.48H270V1368.36H293"/>
<path d="M274,1258.66H256V1346.42H270"/>
<path d="M293,1192.84H238V1302.54H256"/>
<path d="M256,1127.02H209V1247.69H238"/>
<path d="M293,1061.2H185V1187.36H209"/>
<path d="M293,1017.32H152V1124.28H185"/>
<path d="M161,880.2H42V1070.8H152"/>
<path d="M57,549.72H32V975.5H42"/>
<path d="M293,1412.24H232V1456.12H293"/>
<path d="M293,1543.88H253V1587.76H293"/>
<path d="M293,1500H189V1565.82H253"/>
<path d="M232,1434.18H184V1532.91H189"/>
<path d="M293,1631.64H215V1675.52H293"/>
<path d="M293,1763.28H224V1807.16H293"/>
<path d="M293,1719.4H202V1785.22H224"/>
<path d="M215,1653.58H124V1752.31H202"/>
<path d="M184,1483.55H99V1702.95H124"/>
<path d="M293,1851.04H220V1894.92H293"/>
<path d="M293,1982.68H250V2026.56H293"/>
<path d="M293,2114.32H256V2158.2H293"/>
<path d="M293,2070.44H239V2136.26H256"/>
<path d="M250,2004.62H204V2103.35H239"/>
<path d="M293,1938.8H155V2053.99H204"/>
<path d="M293,2289.84H234V2333.72H293"/>
<path d="M293,2245.96H219V2311.78H234"/>
<path d="M293,2421.48H269V2465.36H293"/>
<path d="M293,2377.6H218V2443.42H269"/>
<path d="M219,2278.87H157V2410.51H218"/>
<path d="M293,2202.08H112V2344.69H157"/>
<path d="M155,1996.4H60V2273.39H112"/>
<path d="M220,1872.98H48V2134.9H60"/>
<path d="M99,1593.25H23V2003.94H48"/>
<path d="M32,762.61H13V1798.6H23"/>
</g>

<g fill="none" stroke="#000" stroke-width="4.3" stroke-linejoin="miter" stroke-linecap="butt">
<path d="M369.35,293V113.7H521.45V293"/>
<path d="M825.65,293V171.3H977.75V293"/>
<path d="M673.55,293V109.3H901.7V171.3"/>
<path d="M445.4,113.7V91.3H787.63V109.3"/>
<path d="M1434.05,293V141.3H1586.15V293"/>
<path d="M1281.95,293V94.3H1510.1V141.3"/>
<path d="M1129.85,293V46H1396.03V94.3"/>
<path d="M616.51,91.3V13.3H1262.94V46"/>
</g>

<g class="rl">
<text x="1676" y="326.54">Lactococcus_raffinolactis</text>
<text x="1676" y="370.42">Barnesiella_viscericola</text>
<text x="1676" y="414.3">Lactococcus_piscium</text>
<text x="1676" y="458.18">Barnesiella_intestinihominis</text>
<text x="1676" y="502.06">Pseudomonas_fragi</text>
<text x="1676" y="545.94">Coprothermobacter_proteolyticus</text>
<text x="1676" y="589.82">Kallotenue_papyrolyticum</text>
<text x="1676" y="633.7">Ralstonia_pickettii</text>
<text x="1676" y="677.58">Bacillus_cereus</text>
<text x="1676" y="721.46">Phyllobacterium_myrsinacearum</text>
<text x="1676" y="765.34">Streptomyces_albiaxialis</text>
<text x="1676" y="809.22">Pseudonocardia_sichuanensis</text>
<text x="1676" y="853.1">Loriellopsis_cavernicola</text>
<text x="1676" y="896.98">Phyllobacterium_loti</text>
<text x="1676" y="940.86">Kroppenstedtia_eburnea</text>
<text x="1676" y="984.74">Kroppenstedtia_guangzhouensis</text>
<text x="1676" y="1028.62">Staphylococcus_succinus subsp. casei</text>
<text x="1676" y="1072.5">Kocuria_koreensis</text>
<text x="1676" y="1116.38">Streptomyces_griseocarneus</text>
<text x="1676" y="1160.26">Stenotrophomonas_rhizophila</text>
<text x="1676" y="1204.14">Acinetobacter_bouvetii</text>
<text x="1676" y="1248.02">Flavobacterium_johnsoniae</text>
<text x="1676" y="1291.9">Aquabacterium_citratiphilum</text>
<text x="1676" y="1335.78">Rhodococcus_jialingiae</text>
<text x="1676" y="1379.66">Flavobacterium_chungbukense</text>
<text x="1676" y="1423.54">Lactobacillus_pontis</text>
<text x="1676" y="1467.42">Bacillus_licheniformis</text>
<text x="1676" y="1511.3">Pantoea_agglomerans</text>
<text x="1676" y="1555.18">Pantoea_intestinalis</text>
<text x="1676" y="1599.06">Weissella_paramesenteroides</text>
<text x="1676" y="1642.94">Lactobacillus_curvatus</text>
<text x="1676" y="1686.82">Lactobacillus_graminis</text>
<text x="1676" y="1730.7">Lactobacillus_paralimentarius</text>
<text x="1676" y="1774.58">Leuconostoc_mesenteroides</text>
<text x="1676" y="1818.46">Leuconostoc_mesenteroides subsp. dextranicum</text>
<text x="1676" y="1862.34">Bacillus_subtilis subsp. inaquosorum</text>
<text x="1676" y="1906.22">Bacillus_coagulans</text>
<text x="1676" y="1950.1">Klebsiella_pneumoniae</text>
<text x="1676" y="1993.98">Salmonella_enterica subsp. enterica serovar Typhimurium</text>
<text x="1676" y="2037.86">Atlantibacter_hermannii</text>
<text x="1676" y="2081.74">Kosakonia_cowanii</text>
<text x="1676" y="2125.62">Weissella_confusa</text>
<text x="1676" y="2169.5">Weissella_cibaria</text>
<text x="1676" y="2213.38">Lactobacillus_amylovorus</text>
<text x="1676" y="2257.26">Staphylococcus_succinus subsp. succinus</text>
<text x="1676" y="2301.14">Staphylococcus_gallinarum</text>
<text x="1676" y="2345.02">Escherichia_vulneris</text>
<text x="1676" y="2388.9">Pantoea_stewartii subsp. indologenes</text>
<text x="1676" y="2432.78">Citrobacter_youngae</text>
<text x="1676" y="2476.66">Pantoea_theicola</text>
</g>

<g class="cl">
<text transform="translate(350.0,2501) rotate(90)">1719a</text>
<text transform="translate(502.1,2501) rotate(90)">1821a</text>
<text transform="translate(654.2,2501) rotate(90)">2022a</text>
<text transform="translate(806.3,2501) rotate(90)">2022b</text>
<text transform="translate(958.4,2501) rotate(90)">1821b</text>
<text transform="translate(1110.5,2501) rotate(90)">1719b</text>
<text transform="translate(1262.6,2501) rotate(90)">1719c</text>
<text transform="translate(1414.7,2501) rotate(90)">2022c</text>
<text transform="translate(1566.8,2501) rotate(90)">1821c</text>
</g>

<rect x="2534" y="293" width="55" height="800" fill="url(#cb)"/>
<g class="lg">
<text x="2608" y="413">2</text>
<text x="2608" y="562.7">1</text>
<text x="2608" y="712.4">0</text>
<text x="2608" y="862.1">−1</text>
<text x="2608" y="1011.8">−2</text>
</g>
</svg>
</body></html>
